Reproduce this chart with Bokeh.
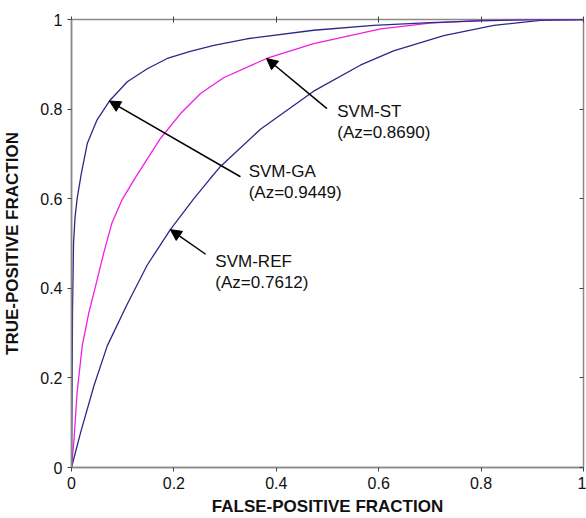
from bokeh.plotting import figure
from bokeh.models import Range1d, LinearAxis, FixedTicker, Arrow, NormalHead, Label
from bokeh.embed import file_html
from bokeh.resources import INLINE

# ---- data ----
ga_fpf = [0, 0.001, 0.002, 0.004, 0.007, 0.011, 0.019, 0.031, 0.050, 0.074, 0.109,
          0.148, 0.187, 0.232, 0.278, 0.343, 0.473, 0.590, 0.700, 0.800, 0.900, 1.0]
ga_tpf = [0, 0.15, 0.35, 0.50, 0.56, 0.60, 0.655, 0.724, 0.776, 0.818, 0.861,
          0.890, 0.913, 0.929, 0.942, 0.957, 0.976, 0.987, 0.993, 0.997, 1.0, 1.0]

st_fpf = [0, 0.005, 0.011, 0.021, 0.034, 0.047, 0.063, 0.079, 0.099, 0.122, 0.174,
          0.213, 0.252, 0.297, 0.381, 0.473, 0.604, 0.700, 0.800, 0.900, 1.0]
st_tpf = [0, 0.064, 0.168, 0.272, 0.346, 0.405, 0.479, 0.546, 0.598, 0.642, 0.735,
          0.790, 0.835, 0.870, 0.913, 0.946, 0.979, 0.992, 0.998, 1.0, 1.0]

ref_fpf = [0, 0.018, 0.044, 0.070, 0.109, 0.148, 0.193, 0.239, 0.271, 0.291, 0.369,
           0.473, 0.564, 0.629, 0.727, 0.825, 0.916, 1.0]
ref_tpf = [0, 0.079, 0.183, 0.272, 0.365, 0.452, 0.531, 0.600, 0.645, 0.672, 0.755,
           0.840, 0.898, 0.930, 0.964, 0.987, 0.998, 1.0]

tick_values = [0, 0.2, 0.4, 0.6, 0.8, 1.0]
tick_labels = ["0", "0.2", "0.4", "0.6", "0.8", "1"]

series_names = ["SVM-GA", "SVM-ST", "SVM-REF"]
series_az = ["(Az=0.9449)", "(Az=0.8690)", "(Az=0.7612)"]

# annotation geometry: label anchor (top-left) and arrow tail -> tip
label_xy = [(0.346, 0.682), (0.519, 0.816), (0.281, 0.482)]
arrow_tail = [(0.330, 0.649), (0.499, 0.801), (0.262, 0.476)]
arrow_tip = [(0.074, 0.818), (0.381, 0.913), (0.193, 0.531)]

NAVY = "#2a2a86"
MAGENTA = "#f01ee6"
FONT = "Liberation Sans"

p = figure(width=586, height=518, x_range=Range1d(0, 1), y_range=Range1d(0, 1),
           output_backend="svg", toolbar_location=None,
           min_border_left=71, min_border_right=3, min_border_top=19, min_border_bottom=49,
           background_fill_color="white", border_fill_color="white")
p.grid.visible = False
p.outline_line_color = "#8a8a8a"
p.outline_line_width = 1.5

overrides = {v: l for v, l in zip(tick_values, tick_labels)}
for ax in [p.xaxis[0], p.yaxis[0]]:
    ax.ticker = FixedTicker(ticks=tick_values)
    ax.major_label_overrides = overrides
    ax.minor_tick_line_color = None
    ax.axis_line_color = "#8a8a8a"
    ax.axis_line_width = 1.5
    ax.major_tick_line_color = "#444444"
    ax.major_tick_in = 0
    ax.major_tick_out = 4
    ax.major_label_text_font = FONT
    ax.major_label_text_font_size = "16px"
    ax.major_label_text_color = "#111111"
    ax.major_label_standoff = 5
    ax.axis_label_text_font = FONT
    ax.axis_label_text_font_style = "bold"
    ax.axis_label_text_font_size = "17px"
    ax.axis_label_text_color = "#111111"

p.xaxis.axis_label = "FALSE-POSITIVE FRACTION"
p.yaxis.axis_label = "TRUE-POSITIVE FRACTION"
p.xaxis.axis_label_standoff = 5
p.yaxis.axis_label_standoff = 15

# top and right axes: ticks only (labels not painted)
for loc, tin, tout in [("above", 3, 3), ("right", 4, 0)]:
    ax = LinearAxis(ticker=FixedTicker(ticks=tick_values),
                    major_label_text_font_size="1px", major_label_text_color=None,
                    major_label_standoff=0, axis_line_color=None,
                    major_tick_line_color="#444444", major_tick_in=tin, major_tick_out=tout,
                    minor_tick_line_color=None)
    p.add_layout(ax, loc)

p.line(ref_fpf, ref_tpf, line_color=NAVY, line_width=1.3)
p.line(st_fpf, st_tpf, line_color=MAGENTA, line_width=1.3)
p.line(ga_fpf, ga_tpf, line_color=NAVY, line_width=1.3)

for name, az, (lx, ly), (tx, ty), (hx, hy) in zip(series_names, series_az, label_xy,
                                                   arrow_tail, arrow_tip):
    p.add_layout(Arrow(x_start=tx, y_start=ty, x_end=hx, y_end=hy,
                       line_color="black", line_width=1.5,
                       end=NormalHead(size=11, fill_color="black", line_color="black")))
    p.add_layout(Label(x=lx, y=ly, text=name, text_font=FONT, text_font_size="17px",
                       text_baseline="top", text_color="#111111"))
    p.add_layout(Label(x=lx, y=ly, y_offset=-21, text=az, text_font=FONT,
                       text_font_size="17px", text_baseline="top", text_color="#111111"))

open("out.html", "w").write(file_html(p, INLINE))
